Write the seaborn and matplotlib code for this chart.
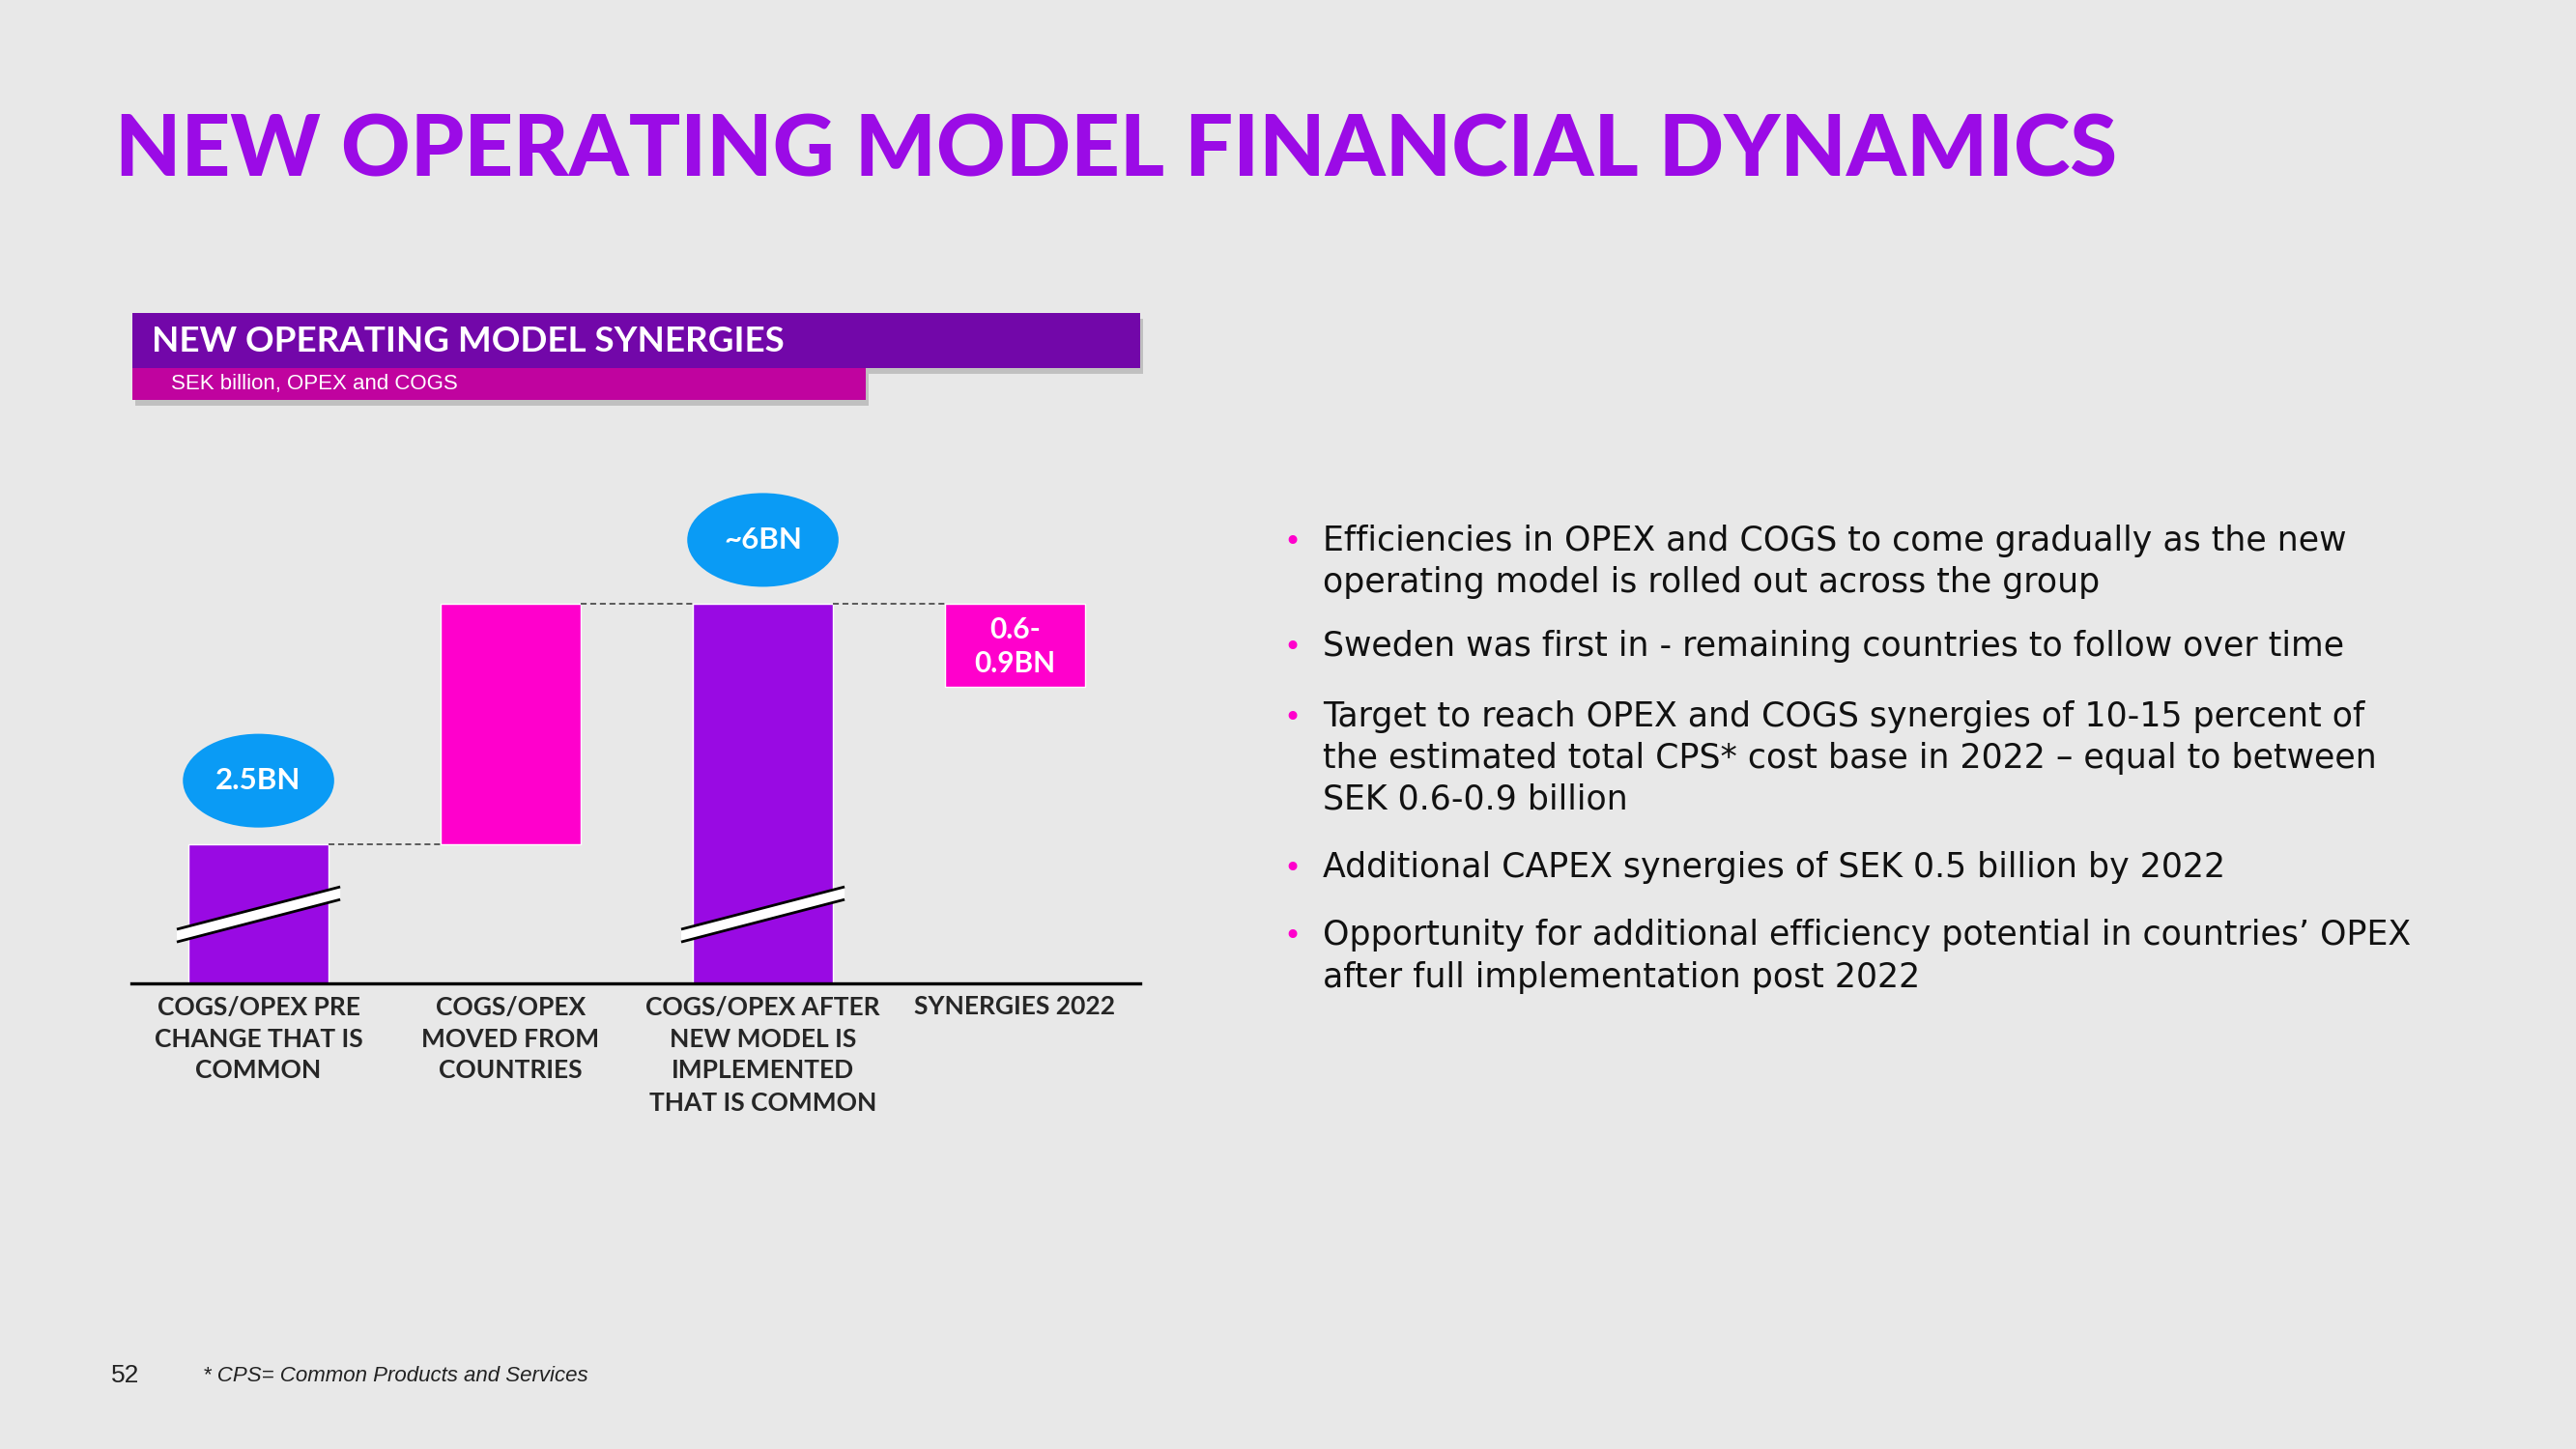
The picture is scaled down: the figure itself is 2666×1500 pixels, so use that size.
import matplotlib.pyplot as plt
import matplotlib.patches as mpatches
import seaborn as sns
import pandas as pd

# chart data (bar heights, axis is broken so not to scale)
categories = ['COGS/OPEX PRE\nCHANGE THAT IS\nCOMMON',
              'COGS/OPEX\nMOVED FROM\nCOUNTRIES',
              'COGS/OPEX AFTER\nNEW MODEL IS\nIMPLEMENTED\nTHAT IS COMMON',
              'SYNERGIES 2022']
bar_bottom = [0.0, 2.2, 0.0, 4.68]
bar_top = [2.2, 6.0, 6.0, 6.0]
bar_colors = ['#990ae3', '#ff00cc', '#990ae3', '#ff00cc']
bubble_labels = {0: '2.5BN', 2: '~6BN'}
box_label = '0.6-\n0.9BN'
broken_bars = [0, 2]

bullets = [
    ['Efficiencies in OPEX and COGS to come gradually as the new',
     'operating model is rolled out across the group'],
    ['Sweden was first in - remaining countries to follow over time'],
    ['Target to reach OPEX and COGS synergies of 10-15 percent of',
     'the estimated total CPS* cost base in 2022 \u2013 equal to between',
     'SEK 0.6-0.9 billion'],
    ['Additional CAPEX synergies of SEK 0.5 billion by 2022'],
    ['Opportunity for additional efficiency potential in countries\u2019 OPEX',
     'after full implementation post 2022'],
]
bullet_baselines = [[570, 613], [679], [752, 795, 838], [908], [978, 1022]]

W, H = 2666, 1500
BG = '#e8e8e8'

sns.set_style('white')
plt.rcParams['font.family'] = ['Lato', 'DejaVu Sans']

fig = plt.figure(figsize=(W / 100, H / 100), dpi=100, facecolor=BG)


def fx(x):
    return x / W


def fy(y):
    return 1 - y / H


# title
fig.text(fx(119), fy(157), 'NEW OPERATING MODEL FINANCIAL DYNAMICS', fontsize=63.7,
         fontweight='black', color='#9b0be6', va='center', ha='left')

# header boxes with a soft shadow
boxes = [(137, 324, 1180, 381, '#7207a9'), (137, 381, 896, 414, '#c0039f')]
for x0, y0, x1, y1, col in boxes:
    fig.add_artist(mpatches.Rectangle((fx(x0 + 3), fy(y1 + 6)), (x1 - x0) / W, (y1 - y0) / H,
                                      transform=fig.transFigure, color='#9a9a9a', alpha=0.5, lw=0))
for x0, y0, x1, y1, col in boxes:
    fig.add_artist(mpatches.Rectangle((fx(x0), fy(y1)), (x1 - x0) / W, (y1 - y0) / H,
                                      transform=fig.transFigure, color=col, lw=0))
fig.text(fx(157), fy(354), 'NEW OPERATING MODEL SYNERGIES', fontsize=26.5, fontweight='bold',
         color='white', va='center')
fig.text(fx(177), fy(398), 'SEK billion, OPEX and COGS', fontsize=16, color='white',
         va='center', family=['Liberation Sans', 'DejaVu Sans'])

# waterfall chart
ax = fig.add_axes([fx(136), fy(1018), (1180 - 136) / W, (1018 - 480) / H])
ax.set_facecolor('none')
df = pd.DataFrame({'category': categories, 'top': bar_top})
sns.barplot(data=df, x='category', y='top', hue='category', palette=bar_colors,
            legend=False, width=0.556, saturation=1, ax=ax)
for patch, b, t in zip(ax.patches, bar_bottom, bar_top):
    patch.set_y(b)
    patch.set_height(t - b)

ax.set_xlim(-0.504, 3.496)
ax.set_ylim(0, 538 / 65.58)
ax.set_yticks([])
ax.set_xlabel('')
ax.set_ylabel('')
sns.despine(ax=ax, left=True)
ax.spines['bottom'].set_linewidth(2.4)
ax.spines['bottom'].set_color('black')
ax.tick_params(axis='x', length=0, pad=9)
for lab in ax.get_xticklabels():
    lab.set_fontweight('bold')
    lab.set_fontsize(19)
    lab.set_linespacing(1.45)

# dashed connectors
half = 0.556 / 2
for i in range(3):
    ax.plot([i + half, i + 1 - half], [bar_top[i], bar_top[i]], color='#333333',
            lw=1.1, dashes=(4, 2.5))

# axis-break marks
for i in broken_bars:
    xl, xr = i - 0.324, i + 0.324
    yl, yr = 0.754, 1.424
    d = 0.1
    ax.add_patch(mpatches.Polygon([(xl, yl - d), (xr, yr - d), (xr, yr + d), (xl, yl + d)],
                                  closed=True, facecolor='white', edgecolor='none', zorder=5))
    ax.plot([xl, xr], [yl + d, yr + d], color='black', lw=2, zorder=6, solid_capstyle='butt')
    ax.plot([xl, xr], [yl - d, yr - d], color='black', lw=2, zorder=6, solid_capstyle='butt')

# value bubbles
for i, txt in bubble_labels.items():
    cy = bar_top[i] + 1.0
    ax.add_patch(mpatches.Ellipse((i, cy), 0.6, 1.48, facecolor='#0a9bf5',
                                  edgecolor='none', zorder=5, clip_on=False))
    ax.text(i, cy, txt, color='white', fontsize=22.5, fontweight='bold',
            ha='center', va='center', zorder=6)

ax.text(3, (bar_bottom[3] + bar_top[3]) / 2 - 0.03, box_label, color='white', fontsize=21.5,
        fontweight='bold', ha='center', va='center', linespacing=1.3, zorder=6)

# bullet list
for lines, ys in zip(bullets, bullet_baselines):
    fig.text(fx(1328), fy(ys[0]), '\u2022', color='#ff00cc', fontsize=22,
             va='baseline', family='DejaVu Sans')
    for line, y in zip(lines, ys):
        fig.text(fx(1369), fy(y), line, color='#111111', fontsize=25,
                 va='baseline', family=['DejaVu Sans'])

# footer
fig.text(fx(115), fy(1431), '52', fontsize=19, color='#222222', va='baseline',
         family=['Liberation Sans', 'DejaVu Sans'])
fig.text(fx(210), fy(1430), '* CPS= Common Products and Services', fontsize=16,
         color='#222222', style='italic', va='baseline', family=['Liberation Sans', 'DejaVu Sans'])

fig.savefig('out.png', dpi=100, facecolor=BG)
